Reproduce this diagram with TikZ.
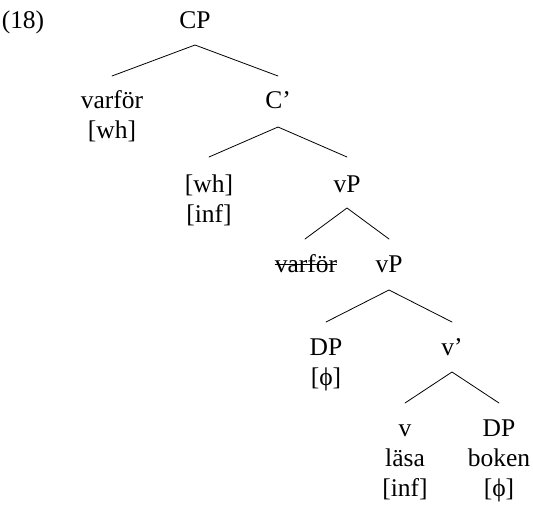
\documentclass[tikz,border=0pt]{standalone}
\usepackage{fontspec}
\setmainfont{Liberation Serif}
\begin{document}
\begin{tikzpicture}[x=1pt,y=-1pt,
  lab/.style={inner sep=0pt,anchor=base,font=\fontsize{25.5}{30}\selectfont},
  br/.style={line width=0.8pt,line cap=round}]
\useasboundingbox (0,0) rectangle (533,506);
\node[lab] (ex) at (23,28) {(18)};
\node[lab] (cp) at (195,28) {CP};
\coordinate (cpt) at (195,45);
\node[lab] (wh1) at (112,108) {varför};
\node[lab] (wh1f) at (112,138) {[wh]};
\node[lab] (cbar) at (278,108) {C’};
\coordinate (cbart) at (278,127);
\node[lab] (c) at (209,192) {[wh]};
\node[lab] (cf) at (209,222) {[inf]};
\node[lab] (vp1) at (347,192) {vP};
\coordinate (vp1t) at (347,208);
\node[lab] (wh2) at (306,272) {varför};
\draw[line width=0.9pt] ([yshift=7.5pt]wh2.base west) -- ([yshift=7.5pt]wh2.base east);
\node[lab] (vp2) at (389,272) {vP};
\coordinate (vp2t) at (389,290);
\node[lab] (dp1) at (326,355) {DP};
\node[lab] (dp1f) at (326,385) {[ϕ]};
\node[lab] (vbar) at (452,355) {v’};
\coordinate (vbart) at (452,372);
\node[lab] (v) at (405,436) {v};
\node[lab] (vl) at (405,466) {läsa};
\node[lab] (vf) at (405,496) {[inf]};
\node[lab] (dp2) at (499,436) {DP};
\node[lab] (dp2l) at (499,466) {boken};
\node[lab] (dp2f) at (499,496) {[ϕ]};
\coordinate (l1) at (112,76); \coordinate (r1) at (278,76);
\coordinate (l2) at (209,157); \coordinate (r2) at (347,157);
\coordinate (l3) at (305,239); \coordinate (r3) at (389,239);
\coordinate (l4) at (326,322); \coordinate (r4) at (452,322);
\coordinate (l5) at (405,403); \coordinate (r5) at (499,403);
\draw[br] (l1) -- (cpt) -- (r1);
\draw[br] (l2) -- (cbart) -- (r2);
\draw[br] (l3) -- (vp1t) -- (r3);
\draw[br] (l4) -- (vp2t) -- (r4);
\draw[br] (l5) -- (vbart) -- (r5);
\end{tikzpicture}
\end{document}
